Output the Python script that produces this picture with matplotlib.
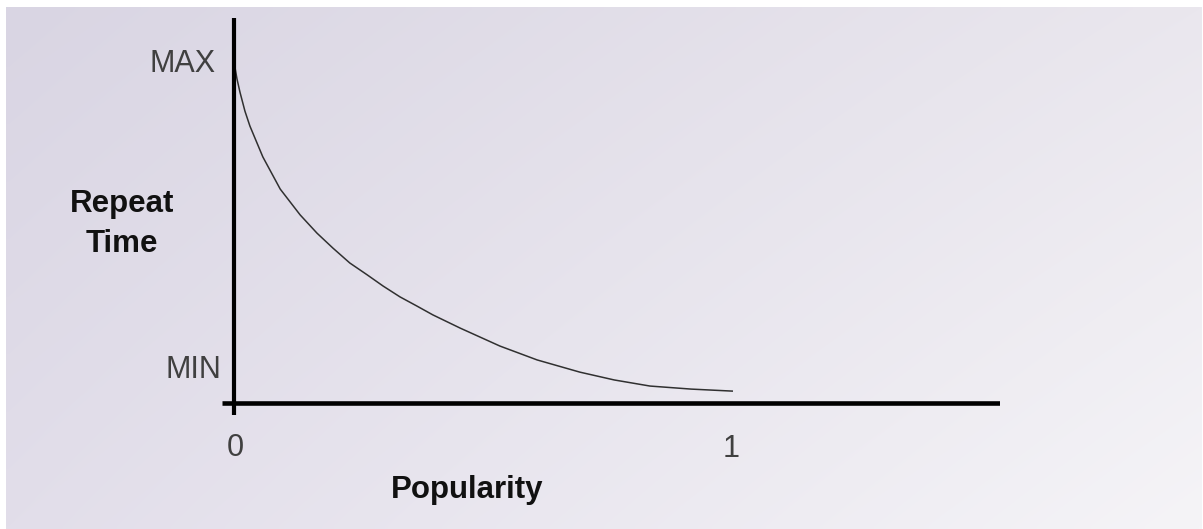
import numpy as np
import matplotlib
matplotlib.use("Agg")
import matplotlib.pyplot as plt

# ---- data ----
popularity = [0.0, 0.006, 0.012, 0.022, 0.032, 0.058, 0.093, 0.133, 0.167, 0.199,
              0.233, 0.268, 0.300, 0.334, 0.368, 0.400, 0.455, 0.535, 0.610, 0.696,
              0.765, 0.837, 0.920, 1.004]
repeat_time = [1.006, 0.956, 0.917, 0.861, 0.817, 0.726, 0.631, 0.555, 0.501, 0.457,
               0.413, 0.378, 0.345, 0.313, 0.286, 0.260, 0.221, 0.168, 0.127, 0.091,
               0.068, 0.050, 0.041, 0.035]
x_tick_labels = ["0", "1"]
y_level_labels = ["MAX", "MIN"]
x_label = "Popularity"
y_label = "Repeat\nTime"

W, H = 1203, 529
fig = plt.figure(figsize=(W / 100, H / 100), dpi=100)
fig.patch.set_facecolor("white")

def fx(px):
    return px / W

def fy(py):
    return 1 - py / H

# ---- background gradient ----
bg = fig.add_axes([fx(6), 0, fx(W - 7), (H - 7) / H])
bg.set_axis_off()
tl = np.array([217, 213, 227]) / 255
tr = np.array([234, 231, 238]) / 255
bl = np.array([226, 222, 234]) / 255
br = np.array([245, 244, 247]) / 255
u = np.linspace(0, 1, 200)[None, :, None]
v = np.linspace(0, 1, 100)[:, None, None]
img = (1 - v) * ((1 - u) * tl + u * tr) + v * ((1 - u) * bl + u * br)
bg.imshow(img, aspect="auto", extent=[0, 1, 0, 1], interpolation="bilinear")
bg.set_xlim(0, 1)
bg.set_ylim(0, 1)

# ---- main axes ----
# pixel geometry: x=0 at px 234, x=1 at px 731; y=0 at px 403, y=1 at px 64
x0p, x1p = 234, 731
y0p, y1p = 403, 64
sx = x1p - x0p
sy = y0p - y1p
left_p, right_p, top_p, bot_p = 222, 1000, 18, 415
ax = fig.add_axes([fx(left_p), fy(bot_p), (right_p - left_p) / W, (bot_p - top_p) / H])
ax.set_facecolor("none")
ax.set_xlim((left_p - x0p) / sx, (right_p - x0p) / sx)
ax.set_ylim((y0p - bot_p) / sy, (y0p - top_p) / sy)
for s in ax.spines.values():
    s.set_visible(False)
ax.set_xticks([])
ax.set_yticks([])

ax.axhline(0, color="black", lw=3.3, solid_capstyle="butt", zorder=3)
ax.axvline(0, color="black", lw=3.0, solid_capstyle="butt", zorder=3)
ax.plot(popularity, repeat_time, color="#303030", lw=1.1, zorder=2,
        solid_capstyle="butt", solid_joinstyle="round")

font = "Liberation Sans"
reg = dict(family=font, fontsize=22, color="#404040")
bold = dict(family=font, fontsize=22.5, color="#111111", fontweight="bold")

fig.text(fx(216), fy(72), y_level_labels[0], ha="right", va="baseline", **reg)
fig.text(fx(221), fy(378), y_level_labels[1], ha="right", va="baseline", **reg)
fig.text(fx(235), fy(456), x_tick_labels[0], ha="center", va="baseline", **reg)
fig.text(fx(731), fy(457), x_tick_labels[1], ha="center", va="baseline", **reg)
fig.text(fx(467), fy(498), x_label, ha="center", va="baseline", **bold)
fig.text(fx(122), fy(224), y_label, ha="center", va="center", linespacing=1.4, **bold)

fig.savefig("out.png", dpi=100, facecolor=fig.get_facecolor())
